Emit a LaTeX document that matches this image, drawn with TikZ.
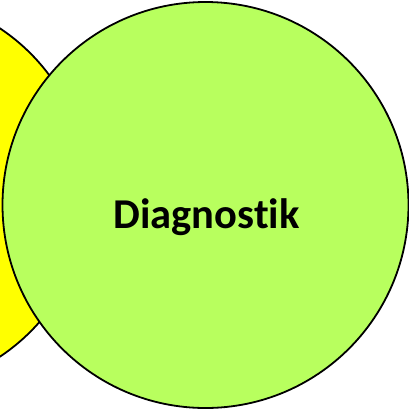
\documentclass[tikz,border=0pt]{standalone}
\usepackage{fontspec}
\setmainfont[Ligatures={NoCommon}]{Carlito}
\usetikzlibrary{shapes.geometric}
\definecolor{diaggreen}{RGB}{184,255,94}
\definecolor{sideyellow}{RGB}{255,255,0}
\tikzset{
	bubble/.style={circle, draw=black, line width=1.8pt, inner sep=0pt}
}
\begin{document}
\begin{tikzpicture}[x=1pt, y=-1pt]
		\useasboundingbox (0,0) rectangle (409,408);
		
		\node[bubble, fill=sideyellow, minimum size=394pt] (yellowcircle) at (-109,192.5) {};
		
		\node[bubble, fill=diaggreen, minimum size=406pt] (diagnostik) at (205.5,205) {};
		\node[font=\fontsize{42.5}{48}\selectfont\bfseries, anchor=base] (diaglabel) at (206.5,228) {Diagnostik};
		
	\end{tikzpicture}
\end{document}
